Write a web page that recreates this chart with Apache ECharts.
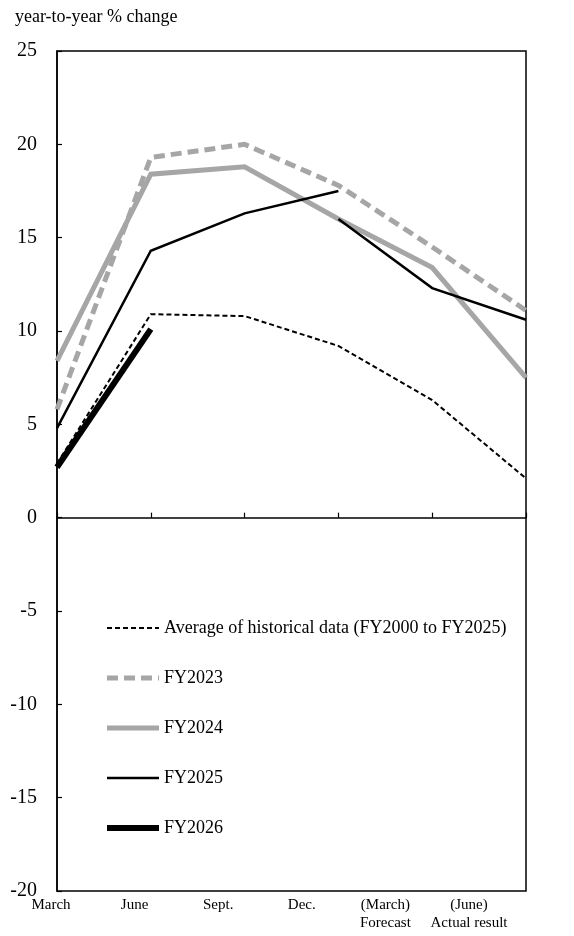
<!DOCTYPE html>
<html><head><meta charset="utf-8">
<script src="https://cdn.jsdelivr.net/npm/echarts@6/dist/echarts.min.js"></script>
<style>html,body{margin:0;padding:0;background:#fff}#c{width:574px;height:936px}</style>
</head><body><div id="c"></div>
<script>
var categories = ['March','June','Sept.','Dec.','(March)\nForecast','(June)\nActual result'];
var yTicks = [-20,-15,-10,-5,0,5,10,15,20,25];
var avgHist = [2.9, 10.9, 10.8, 9.2, 6.3, 2.1];
var fy2023 = [5.8, 19.3, 20.0, 17.8, 14.5, 11.1];
var fy2024 = [8.4, 18.4, 18.8, 16.0, 13.4, 7.5];
var fy2025 = [4.8, 14.3, 16.3, 17.5, null, null];
var fy2025b = [null, null, null, 16.0, 12.3, 10.6];
var fy2026 = [2.7, 10.1, null, null, null, null];

var F = '"Liberation Serif","Times New Roman",serif';
var AVG = 'Average of historical data (FY2000 to FY2025)';
var styles = {};
styles[AVG] = {color:'#000', width:2, type:[5,3]};
styles['FY2023'] = {color:'#a6a6a6', width:5, type:[11,6]};
styles['FY2024'] = {color:'#a6a6a6', width:5, type:'solid'};
styles['FY2025'] = {color:'#000', width:2.5, type:'solid'};
styles['FY2026'] = {color:'#000', width:6, type:'solid'};

var chart = echarts.init(document.getElementById('c'));
function ln(name, data, z){
  var s = styles[name];
  return {name:name, type:'line', data:data, xAxisIndex:0, yAxisIndex:0, symbol:'none', showSymbol:false,
    connectNulls:false, z:z, animation:false,
    lineStyle:{color:s.color, width:s.width, type:s.type, cap:'butt', join:'miter'}, itemStyle:{color:s.color}};
}
var legendNames = [AVG,'FY2023','FY2024','FY2025','FY2026'];
chart.setOption({
  animation:false,
  textStyle:{fontFamily:F, color:'#000'},
  title:{text:'year-to-year % change', left:10, top:3, textStyle:{fontFamily:F, fontSize:18, fontWeight:'normal', color:'#000'}},
  grid:[
    {left:57, top:51, right:48, bottom:45, show:true, borderColor:'#000', borderWidth:1.5, containLabel:false},
    {left:51, right:105, top:880, height:11, show:false}
  ],
  legend:{
    orient:'vertical', left:99, top:614, itemWidth:52, itemHeight:1, itemGap:32,
    textStyle:{fontFamily:F, fontSize:18, color:'#000'},
    itemStyle:{color:'rgba(0,0,0,0)', borderColor:'rgba(0,0,0,0)', borderWidth:0, opacity:0},
    data: legendNames.map(function(n){
      var s = styles[n];
      return {name:n, itemStyle:{color:'rgba(0,0,0,0)', borderColor:'rgba(0,0,0,0)', borderWidth:0, opacity:0},
        lineStyle:{color:s.color, width:s.width, type:s.type, cap:'butt', opacity:1}};
    })
  },
  xAxis:[
    {type:'category', gridIndex:0, data:categories, boundaryGap:false,
      axisLine:{onZero:true, lineStyle:{color:'#000', width:1.5}},
      axisTick:{inside:true, length:5, lineStyle:{color:'#000', width:1.2}},
      axisLabel:{show:false}, splitLine:{show:false}},
    {type:'category', gridIndex:1, data:categories, boundaryGap:false, position:'bottom',
      axisLine:{show:false}, axisTick:{show:false}, splitLine:{show:false},
      axisLabel:{margin:5, fontFamily:F, fontSize:15, color:'#000', lineHeight:18, interval:0}}
  ],
  yAxis:[
    {type:'value', gridIndex:0, min:yTicks[0], max:yTicks[yTicks.length-1], interval:5,
      axisLine:{show:true, lineStyle:{color:'#000', width:1.5}},
      axisTick:{show:true, inside:true, length:5, lineStyle:{color:'#000', width:1.2}},
      axisLabel:{margin:20, fontFamily:F, fontSize:20, color:'#000'},
      splitLine:{show:false}},
    {type:'value', gridIndex:1, show:false}
  ],
  series:[
    ln(AVG, avgHist, 5),
    ln('FY2023', fy2023, 2),
    ln('FY2024', fy2024, 3),
    ln('FY2025', fy2025, 4),
    ln('FY2025', fy2025b, 4),
    ln('FY2026', fy2026, 6)
  ]
});
</script></body></html>
